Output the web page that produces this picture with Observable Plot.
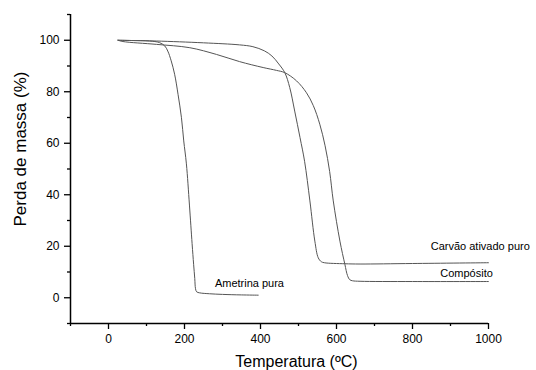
<!DOCTYPE html>
<html>
<head>
<meta charset="utf-8">
<script src="https://cdn.jsdelivr.net/npm/d3@7"></script>
<script src="https://cdn.jsdelivr.net/npm/@observablehq/plot@0.6"></script>
<style>
  html, body { margin: 0; padding: 0; background: #fff; }
  #chart { width: 536px; height: 370px; overflow: hidden; }
</style>
</head>
<body>
<div id="chart"></div>
<script>
// Ametrina pura (temperature °C, mass %)
const ametrinaX = [25, 60, 108, 134, 148, 156, 165, 174, 183, 192, 198, 205, 213, 220, 224, 227, 229, 232, 240, 266, 300, 350, 394];
const ametrinaY = [100, 99.9, 99.7, 99.1, 97.8, 95.8, 92.0, 86.8, 79.0, 69.9, 60.9, 52, 36, 21, 13, 7.5, 3.5, 2.3, 1.9, 1.55, 1.3, 1.1, 1.0];

// Carvão ativado puro
const carvaoX = [25, 60, 126, 250, 345, 380, 410, 430, 448, 464, 477, 490, 504, 516, 530, 543, 552, 560, 568, 622, 662, 800, 1000];
const carvaoY = [100, 99.9, 99.7, 99.0, 98.2, 97.5, 95.9, 93.9, 90.8, 87.4, 81.6, 72.5, 62.2, 53, 37.6, 22, 15.5, 14, 13.6, 13.2, 13.1, 13.3, 13.6];

// Compósito
const compositoX = [25, 38, 126, 214, 284, 345, 407, 442, 464, 495, 521, 539, 556, 570, 582, 591.5, 609, 622, 629, 635, 642, 662, 800, 1000];
const compositoY = [100, 99.5, 98.4, 97.1, 94.5, 91.7, 89.4, 88.3, 87.4, 84.2, 79.6, 74.6, 67.4, 59.0, 49, 37.6, 22, 13, 8.6, 7.0, 6.6, 6.4, 6.3, 6.3];

// Axis ticks
const xMajor = [0, 200, 400, 600, 800, 1000];
const xMinor = [-100, 100, 300, 500, 700, 900];
const yMajor = [0, 20, 40, 60, 80, 100];
const yMinor = [-10, 10, 30, 50, 70, 90, 110];

// Annotations
const labelNames = ["Ametrina pura", "Carvão ativado puro", "Compósito"];
const labelX = [280, 848, 873];
const labelY = [5.6, 20.1, 9.5];

const xTitle = "Temperatura (ºC)";
const yTitle = "Perda de massa (%)";

const toPts = (xs, ys) => xs.map((x, i) => ({x, y: ys[i]}));
const series = [
  toPts(ametrinaX, ametrinaY),
  toPts(carvaoX, carvaoY),
  toPts(compositoX, compositoY)
];
const labels = labelNames.map((t, i) => ({t, x: labelX[i], y: labelY[i]}));

const lineColor = "#555";

const chart = Plot.plot({
  width: 536,
  height: 370,
  marginLeft: 70,
  marginRight: 48,
  marginTop: 14,
  marginBottom: 47,
  style: {fontFamily: "'Liberation Sans', Arial, sans-serif", fontSize: "12px", background: "#fff", color: "#000", overflow: "visible"},
  x: {domain: [-100, 1000]},
  y: {domain: [-10, 110]},
  marks: [
    ...series.map(d => Plot.line(d, {x: "x", y: "y", stroke: lineColor, strokeWidth: 1, curve: "catmull-rom"})),
    Plot.text(labels, {x: "x", y: "y", text: "t", textAnchor: "start", lineAnchor: "middle", fontSize: 11, fill: "#000"}),
    Plot.ruleX([-100], {stroke: "#000", strokeWidth: 1.5}),
    Plot.ruleY([-10], {stroke: "#000", strokeWidth: 1.5}),
    Plot.axisX({ticks: xMajor, tickSize: 6, tickPadding: 5, label: null, tickFormat: d => String(d), strokeWidth: 1.3}),
    Plot.axisX({ticks: xMinor, tickSize: 3, label: null, tickFormat: () => "", strokeWidth: 1.3}),
    Plot.axisY({ticks: yMajor, tickSize: 6, tickPadding: 5, label: null, tickFormat: d => String(d), strokeWidth: 1.3}),
    Plot.axisY({ticks: yMinor, tickSize: 3, label: null, tickFormat: () => "", strokeWidth: 1.3}),
    Plot.text([xTitle], {frameAnchor: "bottom", dx: 17, dy: 38, lineAnchor: "middle", textAnchor: "middle", fontSize: 16, fill: "#000"}),
    Plot.text([yTitle], {frameAnchor: "left", rotate: -90, dx: -50, dy: -20, lineAnchor: "middle", textAnchor: "middle", fontSize: 17, fill: "#000"})
  ]
});
document.getElementById("chart").appendChild(chart);
</script>
</body>
</html>
